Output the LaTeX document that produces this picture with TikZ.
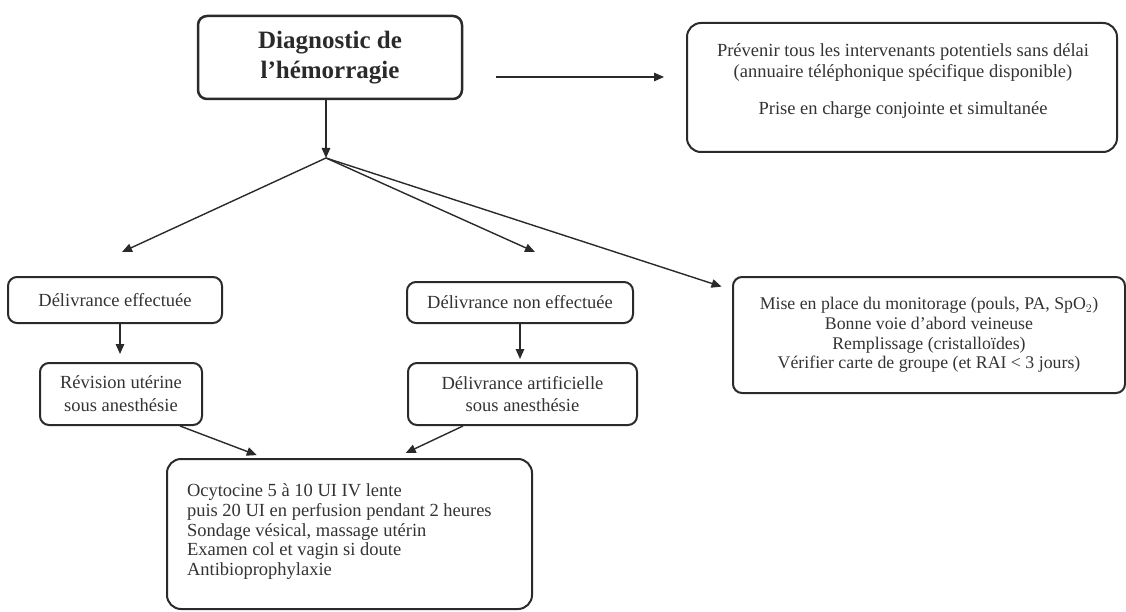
\documentclass[tikz,border=0pt]{standalone}
\usepackage{fontspec}
\setmainfont{Liberation Serif}
\usetikzlibrary{arrows.meta}
\definecolor{ink}{HTML}{2A2A2A}
\definecolor{txt}{HTML}{333333}
\begin{document}
\begin{tikzpicture}[x=1pt,y=-1pt,
  box/.style={draw=ink, line width=2pt, rounded corners=9pt, inner sep=0pt, text=txt, align=center,
    font=\fontsize{18.5}{20}\selectfont},
  lbl/.style={inner sep=0pt, text=txt, align=center, font=\fontsize{18.5}{21}\selectfont},
  arr/.style={draw=ink, line width=1.4pt, -{Triangle[length=10pt,width=8.5pt]}},
]
\useasboundingbox (0,0) rectangle (1126,612);
% boxes
\node[box, line width=2.5pt, minimum width=264pt, minimum height=83pt,
  font=\fontsize{25}{30}\selectfont\bfseries, text=ink] (diag) at (330,57.5) {Diagnostic de\\l'hémorragie};
\node[box, rounded corners=14pt, minimum width=430pt, minimum height=129pt] (prev) at (902,87.5) {};
\node[lbl] (prevtxt) at (903,81)
  {Prévenir tous les intervenants potentiels sans délai\\(annuaire téléphonique spécifique disponible)\\[16pt]Prise en charge conjointe et simultanée};
\node[box, minimum width=214pt, minimum height=46pt] (eff) at (115,300) {Délivrance effectuée};
\node[box, minimum width=162pt, minimum height=62pt, font=\fontsize{18.5}{23}\selectfont] (rev) at (121,394) {Révision utérine\\sous anesthésie};
\node[box, minimum width=226pt, minimum height=41pt] (noneff) at (520,302.5) {Délivrance non effectuée};
\node[box, minimum width=229pt, minimum height=62pt, font=\fontsize{18.5}{22}\selectfont] (art) at (522.5,394) {Délivrance artificielle\\sous anesthésie};
\node[box, minimum width=392pt, minimum height=116pt, font=\fontsize{17.8}{19.7}\selectfont] (mon) at (929,335)
  {Mise en place du monitorage (pouls, PA, SpO$_2$)\\Bonne voie d'abord veineuse\\Remplissage (cristalloïdes)\\Vérifier carte de groupe (et RAI < 3 jours)};
\node[box, rounded corners=14pt, minimum width=365pt, minimum height=150pt, align=left,
  font=\fontsize{18.5}{19.7}\selectfont] (ocy) at (349.5,534)
  {\begin{minipage}[c][150pt][t]{325pt}\vspace{25pt}Ocytocine 5 à 10 UI IV lente\\puis 20 UI en perfusion pendant 2 heures\\Sondage vésical, massage utérin\\Examen col et vagin si doute\\Antibioprophylaxie\end{minipage}};
% connectors
\coordinate (br) at (326,158);
\coordinate (lt) at (122,252);
\coordinate (mt) at (535,252);
\draw[arr] (diag.south -| br) -- (br);
\draw[arr, shorten <=33pt, shorten >=22pt] (diag.east |- 0,77) -- (prev.west |- 0,77);
\draw[arr] (br) -- (lt);
\draw[arr] (br) -- (mt);
\draw[arr, shorten >=11pt] (br) -- (mon.west |- 0,290);
\draw[arr, shorten >=8pt] (eff.south -| 120,0) -- (rev.north -| 120,0);
\draw[arr, shorten >=3pt] (noneff.south -| 520,0) -- (art.north -| 520,0);
\draw[arr, shorten >=11pt] (rev.south -| 180,0) -- (267,459);
\draw[arr, shorten >=14pt] (art.south -| 463,0) -- (393,459);
\end{tikzpicture}
\end{document}
